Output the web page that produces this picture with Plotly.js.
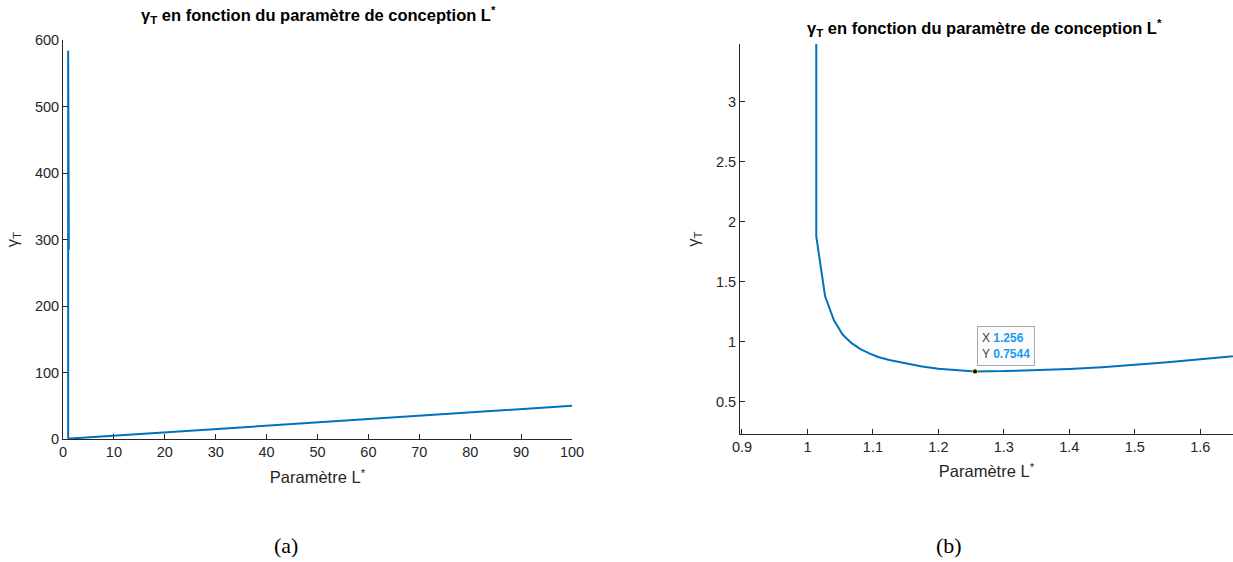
<!DOCTYPE html>
<html>
<head>
<meta charset="utf-8">
<script src="https://cdn.plot.ly/plotly-3.0.1.min.js"></script>
<style>html,body{margin:0;padding:0;background:#fff;}#chart{width:1233px;height:562px;}</style>
</head>
<body>
<div id="chart"></div>
<script>
// Paramètre L* (x) and gamma_T (y) values
const Lstar = [1.0135, 1.15, 1.0135, 1.0135, 1.0135, 1.027, 1.0405, 1.054, 1.0675, 1.081, 1.0945, 1.108, 1.125, 1.15, 1.175, 1.2, 1.225, 1.256, 1.3, 1.35, 1.4, 1.45, 1.5, 1.55, 1.6, 1.65, 1.7, 2, 3, 5, 10, 20, 50, 100];
const gammaT = [440, 285, 440, 584, 1.88, 1.38, 1.18, 1.06, 0.99, 0.94, 0.905, 0.875, 0.85, 0.82, 0.795, 0.777, 0.765, 0.7544, 0.757, 0.764, 0.775, 0.79, 0.808, 0.83, 0.855, 0.882, 0.905, 1.03, 1.52, 2.51, 5.0, 10.0, 25.0, 50.0];
const tipX = [1.256];
const tipY = [0.7544];
const xTicksA = [0, 10, 20, 30, 40, 50, 60, 70, 80, 90, 100];
const yTicksA = [0, 100, 200, 300, 400, 500, 600];
const xTicksB = [0.9, 1, 1.1, 1.2, 1.3, 1.4, 1.5, 1.6];
const yTicksB = [0.5, 1, 1.5, 2, 2.5, 3];
const titleText = 'γ<sub>T</sub> en fonction du paramètre de conception L<sup>*</sup>';
const xTitleText = 'Paramètre L<sup>*</sup>';
const yTitleText = 'γ<sub>T</sub>';

const lineColor = '#0072BD';
const axColor = '#262626';
const FONT = 'Liberation Sans, Arial, Helvetica, sans-serif';

const traces = [
  {x: Lstar, y: gammaT, xaxis: 'x', yaxis: 'y', mode: 'lines', line: {color: lineColor, width: 2}, hoverinfo: 'skip'},
  {x: Lstar, y: gammaT, xaxis: 'x2', yaxis: 'y2', mode: 'lines', line: {color: lineColor, width: 2}, hoverinfo: 'skip'},
  {x: tipX, y: tipY, xaxis: 'x2', yaxis: 'y2', mode: 'markers', marker: {color: '#000', size: 5, line: {color: '#f2e08a', width: 1}}, hoverinfo: 'skip', cliponaxis: false}
];

function axisCommon(extra) {
  return Object.assign({
    showgrid: false, zeroline: false, showline: true, linecolor: axColor, linewidth: 1,
    ticks: 'inside', ticklen: 5, tickwidth: 1, tickcolor: axColor,
    tickfont: {family: FONT, size: 14.5, color: axColor}, mirror: false
  }, extra);
}

const layout = {
  width: 1233, height: 562,
  margin: {l: 0, r: 0, t: 0, b: 0},
  paper_bgcolor: '#fff', plot_bgcolor: 'rgba(0,0,0,0)',
  showlegend: false,
  font: {family: FONT, color: axColor},
  xaxis: axisCommon({domain: [63/1233, 572/1233], range: [0, 100], tickvals: xTicksA, anchor: 'y',
    title: {text: xTitleText, font: {family: FONT, size: 16.5, color: axColor}, standoff: 12}}),
  yaxis: axisCommon({domain: [1 - 439/562, 1 - 40/562], range: [0, 600], tickvals: yTicksA, anchor: 'x',
    title: {text: yTitleText, font: {family: FONT, size: 16.5, color: axColor}, standoff: 12}}),
  xaxis2: axisCommon({domain: [740/1233, 1], range: [0.897, 1.65], tickvals: xTicksB, ticktext: xTicksB.map(String), anchor: 'y2',
    title: {text: xTitleText, font: {family: FONT, size: 16.5, color: axColor}, standoff: 11}}),
  yaxis2: axisCommon({domain: [1 - 434/562, 1 - 44/562], range: [0.233, 3.483], tickvals: yTicksB, anchor: 'x2',
    title: {text: yTitleText, font: {family: FONT, size: 16.5, color: axColor}, standoff: 12}}),
  annotations: [
    {xref: 'paper', yref: 'paper', x: 318/1233, y: 1 - 15/562, xanchor: 'center', yanchor: 'middle', showarrow: false,
     text: '<b>' + titleText + '</b>', font: {family: FONT, size: 16.5, color: '#000'}},
    {xref: 'paper', yref: 'paper', x: 985/1233, y: 1 - 28/562, xanchor: 'center', yanchor: 'middle', showarrow: false,
     text: '<b>' + titleText + '</b>', font: {family: FONT, size: 16.5, color: '#000'}},
    {xref: 'x2', yref: 'y2', x: tipX[0], y: tipY[0], ax: 2, ay: -5, axref: 'pixel', ayref: 'pixel',
     xanchor: 'left', yanchor: 'bottom', showarrow: true, arrowcolor: 'rgba(0,0,0,0)', arrowwidth: 0.1, standoff: 0,
     align: 'left', bgcolor: '#fbfbfd', bordercolor: '#a8a8a8', borderwidth: 1, borderpad: 4,
     text: '<span style="color:#404040">X</span> <b><span style="color:#1a9bf0">' + tipX[0] + '</span></b><br><span style="color:#404040">Y</span> <b><span style="color:#1a9bf0">' + tipY[0] + '</span></b>',
     font: {family: FONT, size: 12}},
    {xref: 'paper', yref: 'paper', x: 286/1233, y: 1 - 545/562, xanchor: 'center', yanchor: 'middle', showarrow: false,
     text: '(a)', font: {family: 'Liberation Serif, DejaVu Serif, serif', size: 22, color: '#000'}},
    {xref: 'paper', yref: 'paper', x: 949/1233, y: 1 - 545/562, xanchor: 'center', yanchor: 'middle', showarrow: false,
     text: '(b)', font: {family: 'Liberation Serif, DejaVu Serif, serif', size: 22, color: '#000'}}
  ]
};

Plotly.newPlot('chart', traces, layout, {staticPlot: true, displayModeBar: false});
</script>
</body>
</html>
